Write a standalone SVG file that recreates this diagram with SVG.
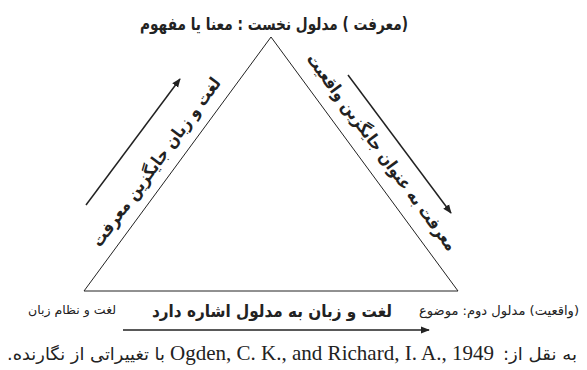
<svg xmlns="http://www.w3.org/2000/svg" width="587" height="370" viewBox="0 0 587 370">
<defs>
<marker id="ah" viewBox="0 0 10 10" refX="9" refY="5" markerWidth="9" markerHeight="9" markerUnits="userSpaceOnUse" orient="auto">
<path d="M0,1 L10,5 L0,9 Z" fill="#222"/>
</marker>
<style>
.fa{font-family:"DejaVu Sans","Noto Sans",sans-serif;fill:#222;direction:rtl;}
.b{font-weight:bold;}
.edge{fill:none;stroke:#222;stroke-width:1;}
.arr{stroke:#222;stroke-width:1.5;fill:none;marker-end:url(#ah);}
.lat{font-family:"Liberation Serif","Times New Roman",serif;fill:#222;}
</style>
</defs>
<rect width="587" height="370" fill="#fff"/>
<g id="triangle">
<path class="edge" d="M271,37 L84,291 L458,291 Z"/>
</g>
<g id="connectors">
<line class="arr" x1="86" y1="205" x2="180" y2="79"/>
<line class="arr" x1="348" y1="75" x2="451" y2="213"/>
<line class="arr" x1="123" y1="330" x2="429" y2="330"/>
</g>
<g id="node-top">
<text class="fa b" x="274" y="30" font-size="17" text-anchor="middle" textLength="268" lengthAdjust="spacingAndGlyphs">(معرفت ) مدلول نخست : معنا یا مفهوم</text>
</g>
<g id="node-left">
<text class="fa" x="72" y="314" font-size="12" text-anchor="middle" textLength="88" lengthAdjust="spacingAndGlyphs">لغت و نظام زبان</text>
</g>
<g id="node-right">
<text class="fa" x="499" y="315" font-size="13" text-anchor="middle" textLength="160" lengthAdjust="spacingAndGlyphs">(واقعیت) مدلول دوم: موضوع</text>
</g>
<g id="label-left">
<text class="fa b" font-size="17" text-anchor="middle" transform="translate(156,162) rotate(-53.6)" y="6" textLength="205" lengthAdjust="spacingAndGlyphs">لغت و زبان جایگزین معرفت</text>
</g>
<g id="label-right">
<text class="fa b" font-size="17" text-anchor="middle" transform="translate(382,152) rotate(53.6)" y="6" textLength="240" lengthAdjust="spacingAndGlyphs">معرفت به عنوان جایگزین واقعیت</text>
</g>
<g id="label-bottom">
<text class="fa b" x="272" y="317" font-size="17" text-anchor="middle" textLength="240" lengthAdjust="spacingAndGlyphs">لغت و زبان به مدلول اشاره دارد</text>
</g>
<g id="citation">
<text class="fa" x="540" y="360" font-size="17" text-anchor="middle" textLength="74" lengthAdjust="spacingAndGlyphs">به نقل از:</text>
<text class="lat" x="170" y="360" font-size="21" textLength="324" lengthAdjust="spacingAndGlyphs">Ogden, C. K., and Richard, I. A., 1949</text>
<text class="fa" x="86" y="360" font-size="17" text-anchor="middle" textLength="158" lengthAdjust="spacingAndGlyphs">با تغییراتی از نگارنده.</text>
</g>
</svg>
